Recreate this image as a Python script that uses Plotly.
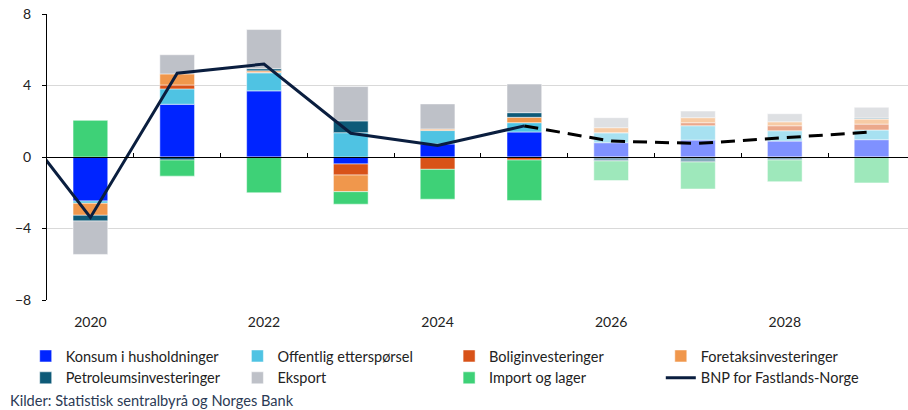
import plotly.graph_objects as go

# ---------------- data ----------------
years = [2020, 2021, 2022, 2023, 2024, 2025, 2026, 2027, 2028, 2029]
projection_start = 2026

konsum = [-2.46, 2.95, 3.70, -0.39, 0.73, 1.40, 0.80, 0.95, 0.89, 0.97]
offentlig = [-0.13, 0.86, 1.01, 1.36, 0.75, 0.52, 0.56, 0.80, 0.58, 0.54]
bolig = [0.00, 0.22, 0.03, -0.62, -0.69, -0.17, 0.00, 0.17, 0.28, 0.33]
foretak = [-0.67, 0.62, 0.08, -0.93, 0.09, 0.30, 0.28, 0.28, 0.22, 0.28]
petroleum = [-0.32, -0.17, 0.12, 0.66, 0.00, 0.26, -0.22, -0.28, -0.17, 0.06]
eksport = [-1.87, 1.07, 2.19, 1.92, 1.40, 1.60, 0.56, 0.37, 0.45, 0.60]
import_lager = [2.05, -0.90, -2.00, -0.70, -1.67, -2.26, -1.10, -1.51, -1.21, -1.45]

gdp_years = [2019, 2020, 2021, 2022, 2023, 2024, 2025, 2026, 2027, 2028, 2029]
gdp = [2.90, -3.38, 4.69, 5.20, 1.33, 0.64, 1.74, 0.89, 0.76, 1.10, 1.40]
last_actual_year = 2025

x_label_years = [2020, 2022, 2024, 2026, 2028]

# ---------------- styling ----------------
series = [
    ("Konsum i husholdninger", konsum, (0, 36, 255)),
    ("Offentlig etterspørsel", offentlig, (79, 195, 227)),
    ("Boliginvesteringer", bolig, (216, 82, 24)),
    ("Foretaksinvesteringer", foretak, (240, 151, 76)),
    ("Petroleumsinvesteringer", petroleum, (14, 90, 120)),
    ("Eksport", eksport, (190, 193, 200)),
    ("Import og lager", import_lager, (62, 209, 119)),
]

FONT = "Lato"
fig = go.Figure()

for name, vals, (r, g, b) in series:
    colors = [
        f"rgba({r},{g},{b},{0.5 if yr >= projection_start else 1})" for yr in years
    ]
    fig.add_trace(go.Bar(
        x=years, y=vals, name=name, width=0.4,
        marker=dict(color=colors, line=dict(color="white", width=0.5)),
    ))

solid_x = [y for y in gdp_years if y <= last_actual_year]
solid_y = [v for y, v in zip(gdp_years, gdp) if y <= last_actual_year]
dash_x = [y for y in gdp_years if y >= last_actual_year]
dash_y = [v for y, v in zip(gdp_years, gdp) if y >= last_actual_year]

fig.add_trace(go.Scatter(
    x=solid_x, y=solid_y, mode="lines", name="BNP for Fastlands-Norge",
    line=dict(color="#0A1E3F", width=3), xaxis="x2",
))
fig.add_trace(go.Scatter(
    x=dash_x, y=dash_y, mode="lines", showlegend=False,
    line=dict(color="#000000", width=3, dash="14px,8px"), xaxis="x2",
))

xr = [2019.5, 2029.42]
fig.update_layout(
    width=908, height=410,
    margin=dict(l=47, r=0, t=14, b=110, autoexpand=False),
    paper_bgcolor="white", plot_bgcolor="white",
    barmode="relative",
    font=dict(family=FONT, size=14, color="#222222"),
    xaxis=dict(
        range=xr, tickvals=x_label_years, ticktext=[str(v) for v in x_label_years],
        showgrid=False, zeroline=False, showline=False, ticks="",
        ticklabelstandoff=12, tickfont=dict(size=14, color="#222222"),
        automargin=False,
    ),
    xaxis2=dict(
        range=xr, overlaying="x", anchor="free", position=0.5,
        showline=True, linecolor="#000000", linewidth=1,
        ticks="inside", ticklen=4, tickcolor="#000000", tickwidth=1,
        tickvals=[y + 0.5 for y in years[:-1]], showticklabels=False,
        showgrid=False, zeroline=False, automargin=False,
    ),
    yaxis=dict(
        range=[-8, 8], tickvals=[-8, -4, 0, 4, 8],
        showgrid=True, gridcolor="#D9D9D9", gridwidth=1.2,
        zeroline=False, showline=True, linecolor="#000000", linewidth=1,
        ticks="outside", ticklen=4, tickcolor="#000000",
        ticklabelstandoff=8, tickfont=dict(size=14, color="#222222"),
        automargin=False,
    ),
    legend=dict(
        orientation="h", x=(25.7 - 47) / 861, xanchor="left",
        y=-0.14, yanchor="top", entrywidth=166.7, entrywidthmode="pixels",
        itemwidth=30, font=dict(size=14.5, color="#222222"),
        bgcolor="rgba(0,0,0,0)", traceorder="normal", tracegroupgap=0,
    ),
    annotations=[dict(
        text="Kilder: Statistisk sentralbyrå og Norges Bank",
        xref="paper", yref="paper", x=(8 - 47) / 861, y=(300 - 400) / 286,
        xanchor="left", yanchor="middle", showarrow=False,
        font=dict(family=FONT, size=14.6, color="#2B3A55"),
    )],
)

fig.write_html(
    "out.html",
    config={"displayModeBar": False},
    post_script="document.body.style.margin='0';document.body.style.overflow='hidden';",
)
